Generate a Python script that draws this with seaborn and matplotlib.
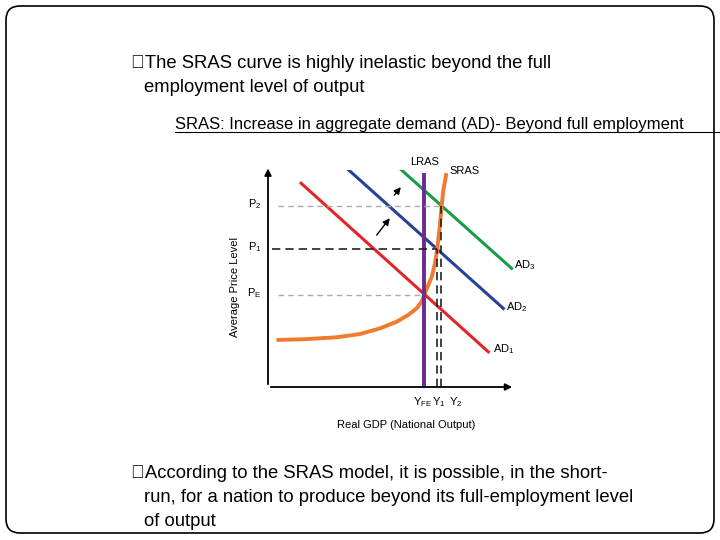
import matplotlib
matplotlib.use("Agg")
import matplotlib.pyplot as plt
from matplotlib.patches import FancyBboxPatch
import seaborn as sns
import pandas as pd

plt.rcParams["font.family"] = "Liberation Sans"
plt.rcParams["mathtext.fontset"] = "custom"
plt.rcParams["mathtext.rm"] = "Liberation Sans"
plt.rcParams["mathtext.it"] = "Liberation Sans"

# Data (diagram units 0..10)
ad1_x = [1.34, 8.92]; ad1_y = [9.39, 1.62]
ad2_x = [3.12, 9.53]; ad2_y = [10.15, 3.62]
ad3_x = [5.03, 9.86]; ad3_y = [10.38, 5.47]
sras_x = [0.42, 1.43, 2.77, 3.72, 4.53, 5.21, 5.68, 6.02, 6.22, 6.32, 6.49, 6.63, 6.76, 6.85, 6.94, 6.99, 7.04, 7.10, 7.21]
sras_y = [2.17, 2.20, 2.29, 2.44, 2.70, 3.01, 3.32, 3.63, 3.93, 4.24, 4.70, 5.08, 5.70, 6.34, 7.24, 7.85, 8.46, 9.08, 9.77]
lras_x = 6.32; lras_top = 9.77
y_fe, y_1, y_2 = 6.32, 6.85, 7.02
p_e, p_1, p_2 = 4.24, 6.34, 8.34
price_labels = ["P$_E$", "P$_1$", "P$_2$"]
output_labels = ["Y$_{FE}$", "Y$_1$", "Y$_2$"]

fig = plt.figure(figsize=(7.2, 5.4), dpi=100)
bg = fig.add_axes([0, 0, 1, 1]); bg.set_xlim(0, 720); bg.set_ylim(540, 0); bg.axis("off")
bg.add_patch(FancyBboxPatch((6, 6), 708, 527, boxstyle="round,pad=0,rounding_size=14",
                            fill=False, lw=1.2, ec="black"))
bg.text(131, 63, "\ufffdThe SRAS curve is highly inelastic beyond the full", fontsize=13.3, va="center")
bg.text(144, 88, "employment level of output", fontsize=13.3, va="center")
bg.text(175, 124, "SRAS: Increase in aggregate demand (AD)- Beyond full employment",
        fontsize=12, va="center")
bg.plot([175, 720], [132, 132], color="black", lw=0.8)
bg.text(131, 474, "\ufffdAccording to the SRAS model, it is possible, in the short-", fontsize=13.3, va="center")
bg.text(144, 498, "run, for a nation to produce beyond its full-employment level", fontsize=13.3, va="center")
bg.text(144, 522, "of output", fontsize=13.3, va="center")

# diagram axes: x 268->515 px = 0..10, y 387->170 px = 0..10
ax = fig.add_axes([268/720, 1-387/540, (515-268)/720, (387-170)/540])
ax.set_xlim(0, 10); ax.set_ylim(0, 10); ax.axis("off")
ax.annotate("", xy=(10, 0), xytext=(0, 0), arrowprops=dict(arrowstyle="-|>", color="black", lw=1.3), annotation_clip=False)
ax.annotate("", xy=(0, 10.2), xytext=(0, 0), arrowprops=dict(arrowstyle="-|>", color="black", lw=1.3), annotation_clip=False)

for xs, ys, c in [(ad1_x, ad1_y, "#e0262b"), (ad2_x, ad2_y, "#27409a"), (ad3_x, ad3_y, "#1a9b48")]:
    sns.lineplot(x=xs, y=ys, ax=ax, color=c, lw=2.2, legend=False)
sns.lineplot(data=pd.DataFrame({"x": sras_x, "y": sras_y}), x="x", y="y", ax=ax,
             color="#f07a2e", lw=2.8, sort=False, legend=False)
ax.plot([lras_x, lras_x], [0, lras_top], color="#6a2c91", lw=2.8)

ax.plot([0.42, y_2], [p_2, p_2], ls=(0, (4, 3)), color="#aaaaaa", lw=1)
ax.plot([0.18, y_1], [p_1, p_1], ls=(0, (5, 3)), color="#222222", lw=1.2)
ax.plot([0.42, y_fe], [p_e, p_e], ls=(0, (4, 3)), color="#aaaaaa", lw=1)
ax.plot([y_1, y_1], [0, p_1], ls=(0, (5, 3)), color="#222222", lw=1.2)
ax.plot([y_2, y_2], [0, p_2], ls=(0, (5, 3)), color="#222222", lw=1.2)

ax.annotate("", xy=(5.0, 7.88), xytext=(4.33, 6.9), arrowprops=dict(arrowstyle="-|>", color="black", lw=1))
ax.annotate("", xy=(5.45, 9.31), xytext=(5.04, 8.74), arrowprops=dict(arrowstyle="-|>", color="black", lw=1))

fs = 8
ax.text(lras_x, 10.35, "LRAS", fontsize=fs, ha="center", va="center", clip_on=False)
ax.text(7.35, 9.95, "SRAS", fontsize=fs, ha="left", va="center", clip_on=False)
ax.text(9.95, 5.6, "AD$_3$", fontsize=fs, va="center", clip_on=False)
ax.text(9.65, 3.7, "AD$_2$", fontsize=fs, va="center", clip_on=False)
ax.text(9.1, 1.75, "AD$_1$", fontsize=fs, va="center", clip_on=False)
for p, lab in zip([p_e, p_1, p_2], price_labels):
    ax.text(-0.55, p + 0.1, lab, fontsize=fs, ha="center", va="center", clip_on=False)
for xv, lab in zip([y_fe - 0.05, y_1 + 0.05, y_2 + 0.6], output_labels):
    ax.text(xv, -0.7, lab, fontsize=fs, ha="center", va="center", clip_on=False)
ax.text(-1.35, 4.6, "Average Price Level", fontsize=fs, rotation=90, ha="center", va="center", clip_on=False)
ax.text(5.6, -1.75, "Real GDP (National Output)", fontsize=fs, ha="center", va="center", clip_on=False)

fig.savefig("out.png", dpi=100)
